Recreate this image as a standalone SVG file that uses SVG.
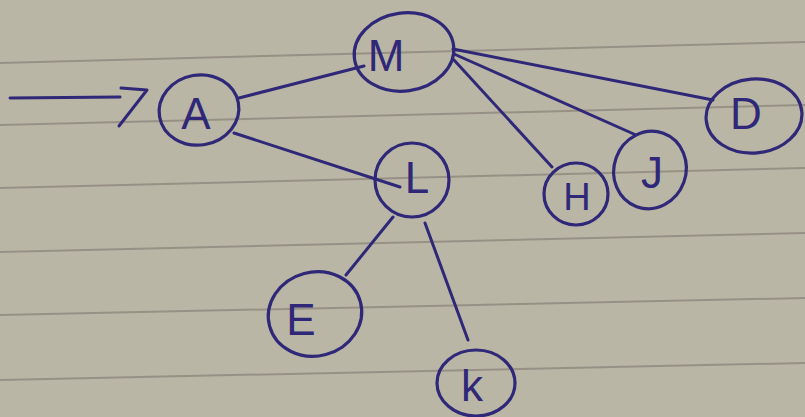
<svg xmlns="http://www.w3.org/2000/svg" width="805" height="417" viewBox="0 0 805 417">
<style>
.rule{stroke:#8e877c;stroke-width:2;fill:none;opacity:0.8}
.node{fill:none;stroke:#2f2878;stroke-width:3.2}
.edge{fill:none;stroke:#2f2878;stroke-width:3;stroke-linecap:round;stroke-linejoin:round}
.lbl{font-family:"Liberation Sans",Arial,sans-serif;font-size:44px;fill:#2f2878;text-anchor:middle;dominant-baseline:central}
</style>
<rect width="805" height="417" fill="#bab6a6"/>
<g id="paper-lines">
<line class="rule" x1="0" y1="63" x2="805" y2="42"/>
<line class="rule" x1="0" y1="125" x2="805" y2="105"/>
<line class="rule" x1="0" y1="188" x2="805" y2="168"/>
<line class="rule" x1="0" y1="252" x2="805" y2="233"/>
<line class="rule" x1="0" y1="315" x2="805" y2="298"/>
<line class="rule" x1="0" y1="380" x2="805" y2="363"/>
</g>
<g id="connectors">
<path class="edge" d="M10 98 L120 97"/>
<path class="edge" d="M121 88 L147 90 L119 126"/>
<path class="edge" d="M239 98 L364 66"/>
<path class="edge" d="M234 133 L400 187"/>
<path class="edge" d="M454 60 L552 167"/>
<path class="edge" d="M454 54 L636 135"/>
<path class="edge" d="M453 49 L713 100"/>
<path class="edge" d="M393 217 L346 275"/>
<path class="edge" d="M425 223 L468 340"/>
</g>
<g id="node-A">
<ellipse class="node" cx="199" cy="110" rx="40" ry="35" transform="rotate(-10 199 110)"/>
<text class="lbl" x="196" y="113">A</text>
</g>
<g id="node-M">
<ellipse class="node" cx="404" cy="52" rx="50" ry="39" transform="rotate(-8 404 52)"/>
<text class="lbl" x="386" y="55">M</text>
</g>
<g id="node-L">
<ellipse class="node" cx="412" cy="180" rx="37" ry="37"/>
<text class="lbl" x="417" y="177">L</text>
</g>
<g id="node-H">
<ellipse class="node" cx="576" cy="194" rx="32" ry="31"/>
<text class="lbl" x="577" y="197" style="font-size:38px">H</text>
</g>
<g id="node-J">
<ellipse class="node" cx="650" cy="170" rx="36" ry="39" transform="rotate(20 650 170)"/>
<text class="lbl" x="652" y="172">J</text>
</g>
<g id="node-D">
<ellipse class="node" cx="754" cy="116" rx="48" ry="37" transform="rotate(-5 754 116)"/>
<text class="lbl" x="746" y="113">D</text>
</g>
<g id="node-E">
<ellipse class="node" cx="315" cy="314" rx="47" ry="42" transform="rotate(-15 315 314)"/>
<text class="lbl" x="301" y="319">E</text>
</g>
<g id="node-K">
<ellipse class="node" cx="476" cy="383" rx="39" ry="33"/>
<text class="lbl" x="472" y="385">k</text>
</g>
</svg>
